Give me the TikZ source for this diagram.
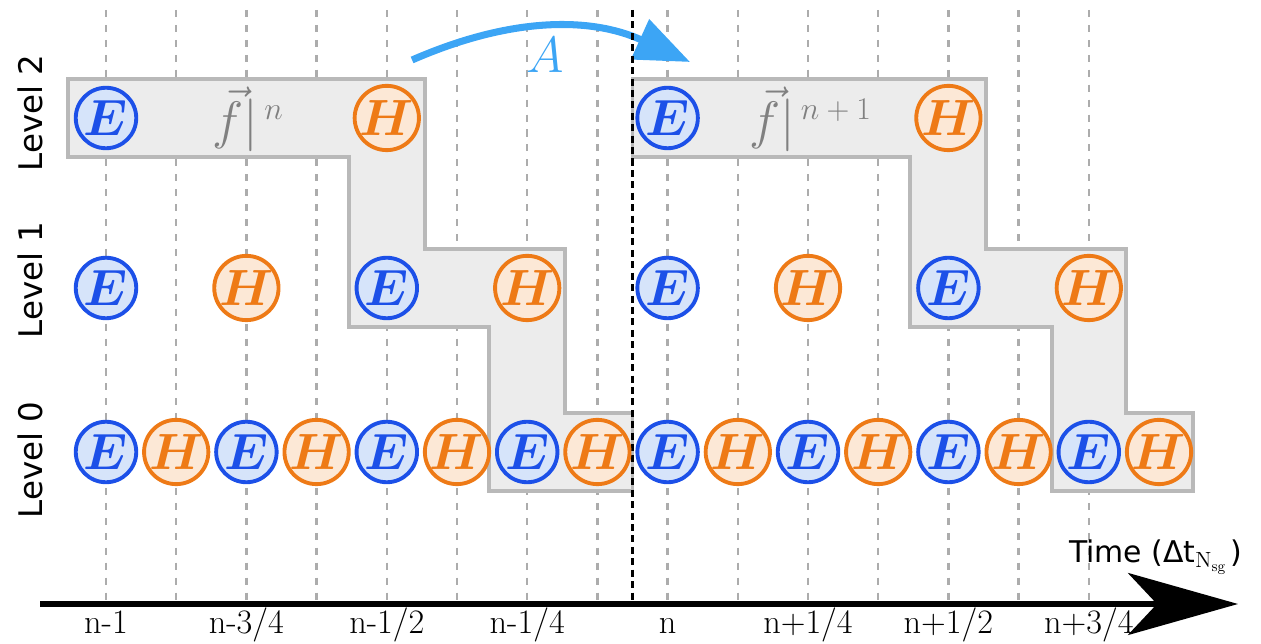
\documentclass[tikz,border=0pt]{standalone}
\usepackage{fix-cm}
\usepackage{fontspec}
\usepackage{amsmath}
\usepackage{tikz}
\newfontfamily\labelfont{DejaVu Sans}
\definecolor{efieldblue}{RGB}{28,80,232}
\definecolor{efieldfill}{RGB}{214,228,250}
\definecolor{hfieldorange}{RGB}{238,122,22}
\definecolor{hfieldfill}{RGB}{252,232,214}
\definecolor{advanceblue}{RGB}{60,165,245}
\usetikzlibrary{arrows.meta,positioning}
\newcommand{\stepexp}[1]{\raisebox{0.36em}{\fontsize{18}{20}\selectfont$#1$}}

\begin{document}
\begin{tikzpicture}[
    x=1.404cm, y=1cm,
    efield/.style={circle, minimum size=1.21cm, inner sep=0pt, line width=2.2pt, draw=efieldblue, fill=efieldfill, text=efieldblue, font=\fontsize{29}{31}\selectfont},
    hfield/.style={efield, draw=hfieldorange, fill=hfieldfill, text=hfieldorange},
    levellabel/.style={rotate=90, font=\labelfont\fontsize{18.5}{20}\selectfont},
    ticklabel/.style={anchor=base, font=\fontsize{19.5}{21}\selectfont},
    block/.style={draw=gray!55, fill=gray!15, line width=2.2pt},
    timeline/.style={gray!65, line width=1.3pt, dash pattern=on 4pt off 4.5pt},
    flux/.style={text=gray, font=\fontsize{30}{32}\selectfont}
]
\useasboundingbox (-1.51,-0.8) rectangle (16.453,12.08);

% sub-step grid
\foreach \k in {0,...,14}
  \draw[timeline] (\k,11.88) -- (\k,0);

% advance arrow
\coordinate (astart) at (4.36,10.88);
\coordinate (aend) at (8.32,10.84);
\draw[advanceblue, line width=4pt, -{Triangle[length=1.1cm,width=0.85cm]}] (astart) to[bend left=24] (aend);
\node[text=advanceblue, font=\fontsize{29}{31}\selectfont] (adv) at (6.25,10.98) {$A$};

% update blocks
\draw[block] (-0.54,10.5) -- (4.54,10.5) -- (4.54,7.1) -- (6.54,7.1) -- (6.54,3.82) -- (7.5,3.82) -- (7.5,2.26) -- (5.46,2.26) -- (5.46,5.54) -- (3.46,5.54) -- (3.46,8.94) -- (-0.54,8.94) -- cycle;
\draw[block] (7.5,10.5) -- (12.54,10.5) -- (12.54,7.1) -- (14.53,7.1) -- (14.53,3.82) -- (15.49,3.82) -- (15.49,2.26) -- (13.47,2.26) -- (13.47,5.54) -- (11.45,5.54) -- (11.45,8.94) -- (7.5,8.94) -- cycle;

\draw[black, line width=2pt, dash pattern=on 4pt off 2.5pt] (7.5,11.88) -- (7.5,0);

% level 2
\node[efield] (l2-0) at (0,9.72) {$\boldsymbol{E}$};
\node[hfield] (l2-4) at (4,9.72) {$\boldsymbol{H}$};
\node[efield] (l2-8) at (8,9.72) {$\boldsymbol{E}$};
\node[hfield] (l2-12) at (12,9.72) {$\boldsymbol{H}$};
\node[flux] (fn) at (2.02,9.7) {$\vec{f}|\mkern2mu\stepexp{n}$};
\node[flux] (fn1) at (10.03,9.7) {$\vec{f}|\mkern2mu\stepexp{n+1}$};

% level 1
\node[efield] (l1-0) at (0,6.32) {$\boldsymbol{E}$};
\node[hfield] (l1-2) at (2,6.32) {$\boldsymbol{H}$};
\node[efield] (l1-4) at (4,6.32) {$\boldsymbol{E}$};
\node[hfield] (l1-6) at (6,6.32) {$\boldsymbol{H}$};
\node[efield] (l1-8) at (8,6.32) {$\boldsymbol{E}$};
\node[hfield] (l1-10) at (10,6.32) {$\boldsymbol{H}$};
\node[efield] (l1-12) at (12,6.32) {$\boldsymbol{E}$};
\node[hfield] (l1-14) at (14,6.32) {$\boldsymbol{H}$};

% level 0
\foreach \k [evaluate=\k as \j using int(\k+1)] in {0,2,...,14} {
  \node[efield] (l0-\k) at (\k,3.04) {$\boldsymbol{E}$};
  \node[hfield] (l0-\j) at (\j,3.04) {$\boldsymbol{H}$};
}

\node[levellabel] (lev2) at (-1.08,9.82) {Level 2};
\node[levellabel] (lev1) at (-1.08,6.48) {Level 1};
\node[levellabel] (lev0) at (-1.08,2.88) {Level 0};

% time axis
\coordinate (tstart) at (-0.94,0);
\coordinate (tend) at (16.125,0);
\draw[line width=3pt, -{Stealth[length=2.2cm,width=1.24cm,inset=0.58cm]}] (tstart) -- (tend);
\node[font=\labelfont\fontsize{17}{19}\selectfont] (time) at (14.95,0.94) {Time (Δt\raisebox{-0.35ex}{\rmfamily\fontsize{12.5}{13}\selectfont N\raisebox{-0.4ex}{\fontsize{8.5}{9}\selectfont sg}}\,)};

\node[ticklabel] (t0) at (0,-0.6) {n-1};
\node[ticklabel] (t2) at (2,-0.6) {n-3/4};
\node[ticklabel] (t4) at (4,-0.6) {n-1/2};
\node[ticklabel] (t6) at (6,-0.6) {n-1/4};
\node[ticklabel] (t8) at (8,-0.6) {n};
\node[ticklabel] (t10) at (10,-0.6) {n+1/4};
\node[ticklabel] (t12) at (12,-0.6) {n+1/2};
\node[ticklabel] (t14) at (14,-0.6) {n+3/4};

\end{tikzpicture}
\end{document}
